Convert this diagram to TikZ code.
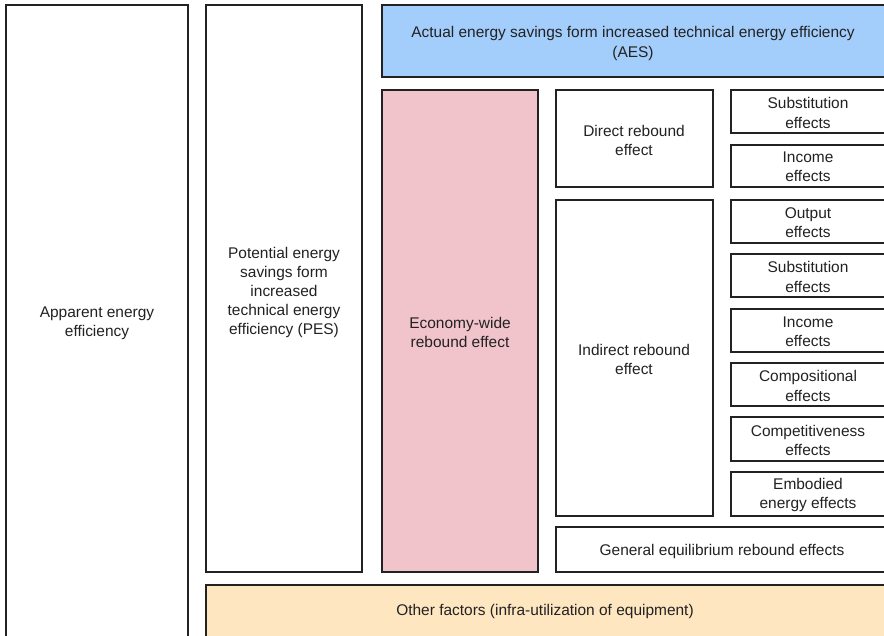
\documentclass[tikz,border=0pt]{standalone}
\usepackage{fontspec}
\setmainfont{Liberation Sans}
\definecolor{aesblue}{HTML}{A3CDFA}
\definecolor{ewpink}{HTML}{F1C3CB}
\definecolor{ofbeige}{HTML}{FEE6C0}
\definecolor{edge}{HTML}{222222}
\begin{document}
\begin{tikzpicture}[x=0.75pt,y=-0.75pt,
  boxline/.style={draw=edge, line width=1.3pt},
  lbl/.style={align=center, inner sep=0pt, font=\fontsize{11.6}{14.3}\selectfont, text=edge}]
\useasboundingbox (0,0) rectangle (884,635);
\clip (0,0) rectangle (884,635);
% boxes
\draw[boxline, fill=white] (6,5) rectangle (188,645);
\draw[boxline, fill=white] (206,5) rectangle (362,572);
\draw[boxline, fill=aesblue] (382,5) rectangle (900,77);
\draw[boxline, fill=ewpink] (382,90) rectangle (538,572);
\draw[boxline, fill=white] (556,90) rectangle (713,187);
\draw[boxline, fill=white] (556,200) rectangle (713,516);
\draw[boxline, fill=white] (731,90) rectangle (900,133);
\draw[boxline, fill=white] (731,145) rectangle (900,187);
\draw[boxline, fill=white] (731,200) rectangle (900,243);
\draw[boxline, fill=white] (731,254) rectangle (900,297);
\draw[boxline, fill=white] (731,309) rectangle (900,352);
\draw[boxline, fill=white] (731,363) rectangle (900,406);
\draw[boxline, fill=white] (731,417) rectangle (900,461);
\draw[boxline, fill=white] (731,472) rectangle (900,516);
\draw[boxline, fill=white] (556,527) rectangle (900,572);
\draw[boxline, fill=ofbeige] (206,585) rectangle (900,645);
% labels
\node[lbl] (ape) at (97,323.5) {Apparent energy\\efficiency};
\node[lbl] (pes) at (284,292.5) {Potential energy\\savings form\\increased\\technical energy\\efficiency (PES)};
\node[lbl] (aes) at (633,43.5) {Actual energy savings form increased technical energy efficiency\\(AES)};
\node[lbl] (ewr) at (460,332.5) {Economy-wide\\rebound effect};
\node[lbl] (dre) at (634,140.5) {Direct rebound\\effect};
\node[lbl] (ire) at (634,359.5) {Indirect rebound\\effect};
\node[lbl] (s1) at (808,113) {Substitution\\effects};
\node[lbl] (i1) at (808,167) {Income\\effects};
\node[lbl] (o1) at (808,223) {Output\\effects};
\node[lbl] (s2) at (808,277) {Substitution\\effects};
\node[lbl] (i2) at (808,332) {Income\\effects};
\node[lbl] (c1) at (808,386) {Compositional\\effects};
\node[lbl] (c2) at (808,440) {Competitiveness\\effects};
\node[lbl] (e1) at (808,495) {Embodied\\energy effects};
\node[lbl] (ge) at (722,551) {General equilibrium rebound effects};
\node[lbl] (of) at (545,611) {Other factors (infra-utilization of equipment)};
\end{tikzpicture}
\end{document}
